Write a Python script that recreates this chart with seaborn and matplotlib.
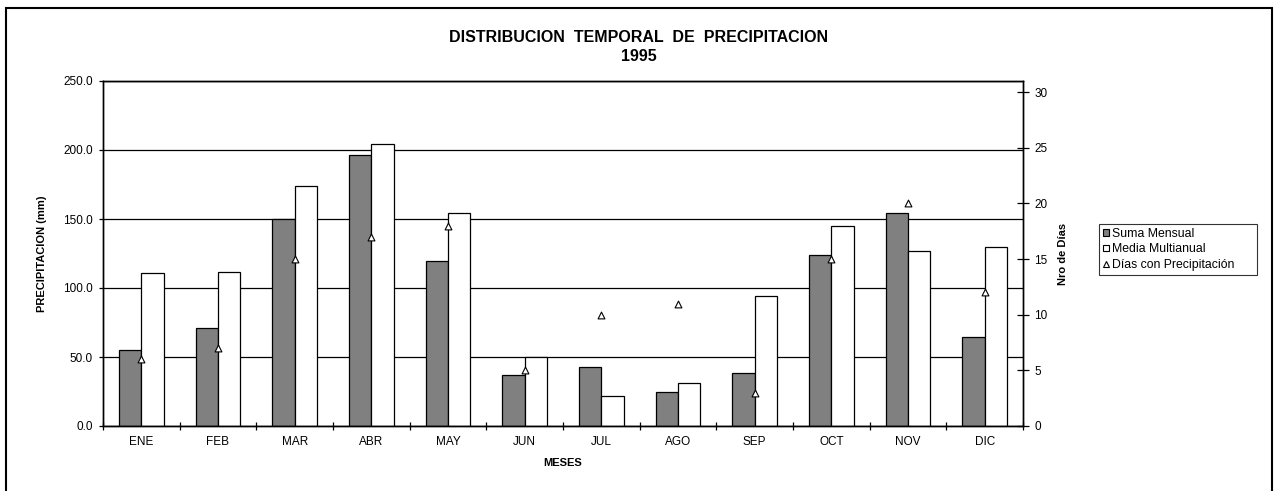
import numpy as np
import pandas as pd
import matplotlib
matplotlib.use("Agg")
import matplotlib.pyplot as plt
from matplotlib.patches import Patch, Rectangle
from matplotlib.lines import Line2D
import seaborn as sns

meses = ["ENE", "FEB", "MAR", "ABR", "MAY", "JUN", "JUL", "AGO", "SEP", "OCT", "NOV", "DIC"]
suma_mensual = [55.1, 71.0, 150.0, 196.4, 119.6, 37.0, 42.8, 24.4, 38.4, 124.0, 154.0, 64.3]
media_multianual = [111.0, 111.6, 173.7, 204.3, 154.0, 49.8, 21.7, 30.9, 94.0, 145.2, 127.0, 129.7]
dias_precip = [6, 7, 15, 17, 18, 5, 10, 11, 3, 15, 20, 12]
series = ["Suma Mensual", "Media Multianual"]
left_ticks = [0, 50, 100, 150, 200, 250]
right_ticks = [0, 5, 10, 15, 20, 25, 30]

sns.set_theme(style="white")
plt.rcParams["font.family"] = ["Liberation Sans", "DejaVu Sans"]
plt.rcParams["text.color"] = "black"
plt.rcParams["axes.labelcolor"] = "black"
plt.rcParams["xtick.color"] = "black"
plt.rcParams["ytick.color"] = "black"

df = pd.DataFrame({
    "mes": meses * 2,
    "valor": suma_mensual + media_multianual,
    "serie": [series[0]] * len(meses) + [series[1]] * len(meses),
})

W, H = 1274, 491
fig = plt.figure(figsize=(W / 100, H / 100), dpi=100)
ax = fig.add_axes([103 / W, (H - 426) / H, 920 / W, 345 / H])

sns.barplot(data=df, x="mes", y="valor", hue="serie", order=meses, hue_order=series,
            palette=["#808080", "#ffffff"], edgecolor="black", linewidth=0.9,
            width=0.58, gap=0, saturation=1, ax=ax, legend=False)

ax.set_ylim(0, 250)
ax.set_xlim(-0.5, len(meses) - 0.5)
ax.set_yticks(left_ticks)
ax.set_yticklabels([f"{v:.1f}" for v in left_ticks])
ax.yaxis.grid(True, color="black", linewidth=0.9)
ax.set_axisbelow(True)
for s in ax.spines.values():
    s.set_color("black")
    s.set_linewidth(1.0)

ax.set_xticks(range(len(meses)))
ax.set_xticklabels(meses)
ax.set_xticks(np.arange(len(meses) + 1) - 0.5, minor=True)
ax.tick_params(axis="x", which="major", length=0, pad=7.5, labelsize=8.5)
ax.tick_params(axis="x", which="minor", direction="inout", length=6, width=0.9, color="black", bottom=True)
ax.tick_params(axis="y", direction="out", length=3, width=0.9, color="black", left=True, labelsize=8.5, pad=4.3)

ax.set_xlabel("MESES", fontsize=8, fontweight="bold")
ax.xaxis.set_label_coords(0.5, (426 - 458) / 345)
ax.set_ylabel("PRECIPITACION (mm)", fontsize=8, fontweight="bold")
ax.yaxis.set_label_coords((47 - 103) / 920, 0.5)

ax2 = ax.twinx()
sns.scatterplot(x=np.arange(len(meses)), y=dias_precip, marker="^", s=24,
                color="white", edgecolor="black", linewidth=0.8, ax=ax2, zorder=5)
ax2.set_ylim(0, 31)
ax2.set_yticks(right_ticks)
ax2.tick_params(axis="y", direction="inout", length=8, width=0.9, color="black", right=True,
                labelsize=8.5, pad=4.3)
ax2.set_ylabel("Nro de Días", fontsize=8, fontweight="bold")
ax2.yaxis.set_label_coords((1057.5 - 103) / 920, 0.5)
ax2.set_xlim(-0.5, len(meses) - 0.5)
for s in ax2.spines.values():
    s.set_color("black")
    s.set_linewidth(1.0)
ax2.grid(False)

fig.text(639 / W, 1 - 42.3 / H, "DISTRIBUCION  TEMPORAL  DE  PRECIPITACION", ha="center",
         va="baseline", fontsize=11.5, fontweight="bold")
fig.text(639 / W, 1 - 61 / H, "1995", ha="center", va="baseline", fontsize=11.5, fontweight="bold")

handles = [
    Patch(facecolor="#808080", edgecolor="black", linewidth=0.8),
    Patch(facecolor="white", edgecolor="black", linewidth=0.8),
    Line2D([], [], marker="^", linestyle="none", markerfacecolor="white",
           markeredgecolor="black", markersize=4, markeredgewidth=0.8),
]
labels = ["Suma Mensual", "Media Multianual", "Días con Precipitación"]
leg = fig.legend(handles, labels, loc="upper left",
                 bbox_to_anchor=(1099 / W, 1 - 279 / H, 158 / W, 55 / H), mode="expand",
                 fontsize=8.8, frameon=True, fancybox=False, edgecolor="black",
                 handlelength=0.5, handleheight=0.5, handletextpad=0.3, labelspacing=0.3,
                 borderpad=0.3, borderaxespad=0)
leg.get_frame().set_linewidth(0.8)

fig.patches.append(Rectangle((6.5 / W, -0.05), (1271.5 - 6.5) / W, (1 - 8 / H) + 0.05,
                             transform=fig.transFigure, fill=False, linewidth=1.5,
                             edgecolor="black"))

fig.savefig("out.png", dpi=100)
